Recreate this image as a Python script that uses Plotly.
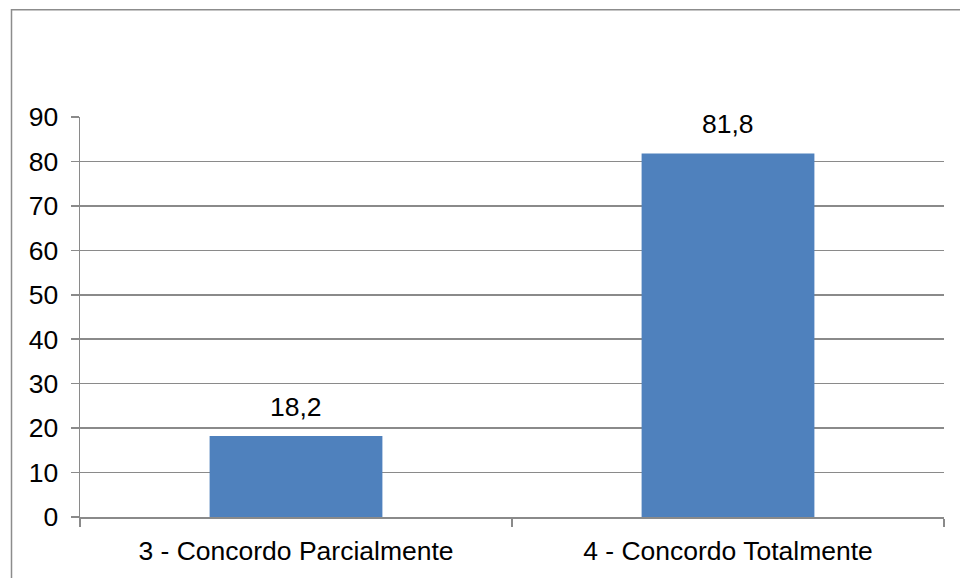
import plotly.graph_objects as go

categories = ["3 - Concordo Parcialmente", "4 - Concordo Totalmente"]
values = [18.2, 81.8]
y_ticks = [0, 10, 20, 30, 40, 50, 60, 70, 80, 90]

W, H = 960, 578
ML, MR, MT, MB = 80, 16, 117, 56
pw, ph = W - ML - MR, H - MT - MB

def px_x(p):
    return (p - ML) / pw

def px_y(p):
    return (H - MB - p) / ph

FONT = "Liberation Sans, Arial, sans-serif"
FS = 26.5
GRAY = "#8a8a8a"

fig = go.Figure()
fig.add_trace(go.Bar(
    x=categories, y=values,
    marker=dict(color="#4f81bd", line=dict(width=0)),
    textposition="none",
    hoverinfo="skip",
))

for c, v in zip(categories, values):
    fig.add_annotation(
        x=c, y=v, xref="x", yref="y",
        text=f"{v:.1f}".replace(".", ","),
        showarrow=False, yanchor="bottom", yshift=12,
        font=dict(family=FONT, size=FS, color="#000000"),
    )

fig.update_layout(
    width=W, height=H,
    margin=dict(l=ML, r=MR, t=MT, b=MB, pad=0),
    paper_bgcolor="white", plot_bgcolor="white",
    bargap=0.6,
    showlegend=False,
    separators=",.",
    font=dict(family=FONT, size=FS, color="#000000"),
    xaxis=dict(
        type="category",
        showgrid=False,
        showline=True, linecolor=GRAY, linewidth=1.5,
        ticks="outside", tickson="boundaries", ticklen=8, tickcolor=GRAY, tickwidth=1.5,
        tickfont=dict(family=FONT, size=FS, color="#000000"),
        ticklabelstandoff=10,
    ),
    yaxis=dict(
        range=[0, 90],
        tickvals=y_ticks,
        showgrid=True, gridcolor=GRAY, gridwidth=1.5,
        zeroline=False,
        showline=True, linecolor=GRAY, linewidth=1.5,
        ticks="outside", ticklen=8, tickcolor=GRAY, tickwidth=1.5,
        tickfont=dict(family=FONT, size=FS, color="#000000"),
        ticklabelstandoff=7,
    ),
    shapes=[dict(
        type="rect", xref="paper", yref="paper",
        x0=px_x(11.5), x1=px_x(968), y0=px_y(590), y1=px_y(8.5),
        line=dict(color="#8c8c8c", width=1.5), fillcolor="rgba(0,0,0,0)",
        layer="below",
    )],
)

fig.write_html(
    "out.html",
    config={"displayModeBar": False, "staticPlot": True},
    post_script="document.body.style.margin='0';document.body.style.padding='0';document.body.style.overflow='hidden';",
)
